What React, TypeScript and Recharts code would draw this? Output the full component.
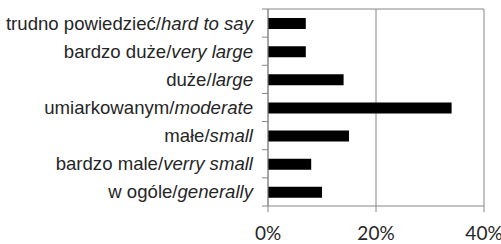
import { BarChart, Bar, XAxis, YAxis, CartesianGrid } from "recharts";

const plLabels = [
  "trudno powiedzieć/",
  "bardzo duże/",
  "duże/",
  "umiarkowanym/",
  "małe/",
  "bardzo male/",
  "w ogóle/",
];
const enLabels = [
  "hard to say",
  "very large",
  "large",
  "moderate",
  "small",
  "verry small",
  "generally",
];
const shares = [7, 7, 14, 34, 15, 8, 10];
const xTicks = [0, 20, 40];

const data = plLabels.map((pl, i) => ({ pl, en: enLabels[i], value: shares[i] }));

const W = 501;
const H = 244;
const M = { top: 9, right: 17, left: 0, bottom: 0 };
const X_H = 38;
const BAND = (H - M.top - X_H) / data.length;
const AXIS = "#868686";
const TEXT = "#262626";

function CatTick(props: any) {
  const { x, y, index } = props;
  const row = data[index];
  const top = y - BAND / 2;
  const ax = x + 15;
  return (
    <g>
      <line x1={ax - 6} x2={ax} y1={top} y2={top} stroke={AXIS} />
      {index === data.length - 1 && (
        <line x1={ax - 6} x2={ax} y1={top + BAND} y2={top + BAND} stroke={AXIS} />
      )}
      <text
        x={x}
        y={y}
        dy="0.35em"
        textAnchor="end"
        fill={TEXT}
        fontSize={18.6}
        fontFamily="'Liberation Sans', Arial, sans-serif"
      >
        <tspan>{row.pl}</tspan>
        <tspan fontStyle="italic">{row.en}</tspan>
      </text>
    </g>
  );
}

export default function App() {
  return (
    <div style={{ position: "fixed", left: 0, top: 0, background: "#fff" }}>
      <BarChart width={W} height={H} data={data} layout="vertical" margin={M}>
        <CartesianGrid
          stroke={AXIS}
          horizontalCoordinatesGenerator={({ offset }: any) => [offset.top]}
        />
        <XAxis
          type="number"
          domain={[0, 40]}
          ticks={xTicks}
          tickFormatter={(v: number) => `${v}%`}
          axisLine={{ stroke: AXIS }}
          tickLine={{ stroke: AXIS }}
          tickSize={6}
          tickMargin={15}
          height={X_H}
          interval={0}
          tick={{ fill: TEXT, fontSize: 19, fontFamily: "Lato, sans-serif" }}
        />
        <YAxis
          type="category"
          dataKey="pl"
          width={268}
          axisLine={{ stroke: AXIS }}
          tickLine={false}
          tickSize={0}
          tickMargin={15}
          interval={0}
          tick={<CatTick />}
        />
        <Bar dataKey="value" fill="#000" barSize={11} isAnimationActive={false} />
      </BarChart>
    </div>
  );
}
